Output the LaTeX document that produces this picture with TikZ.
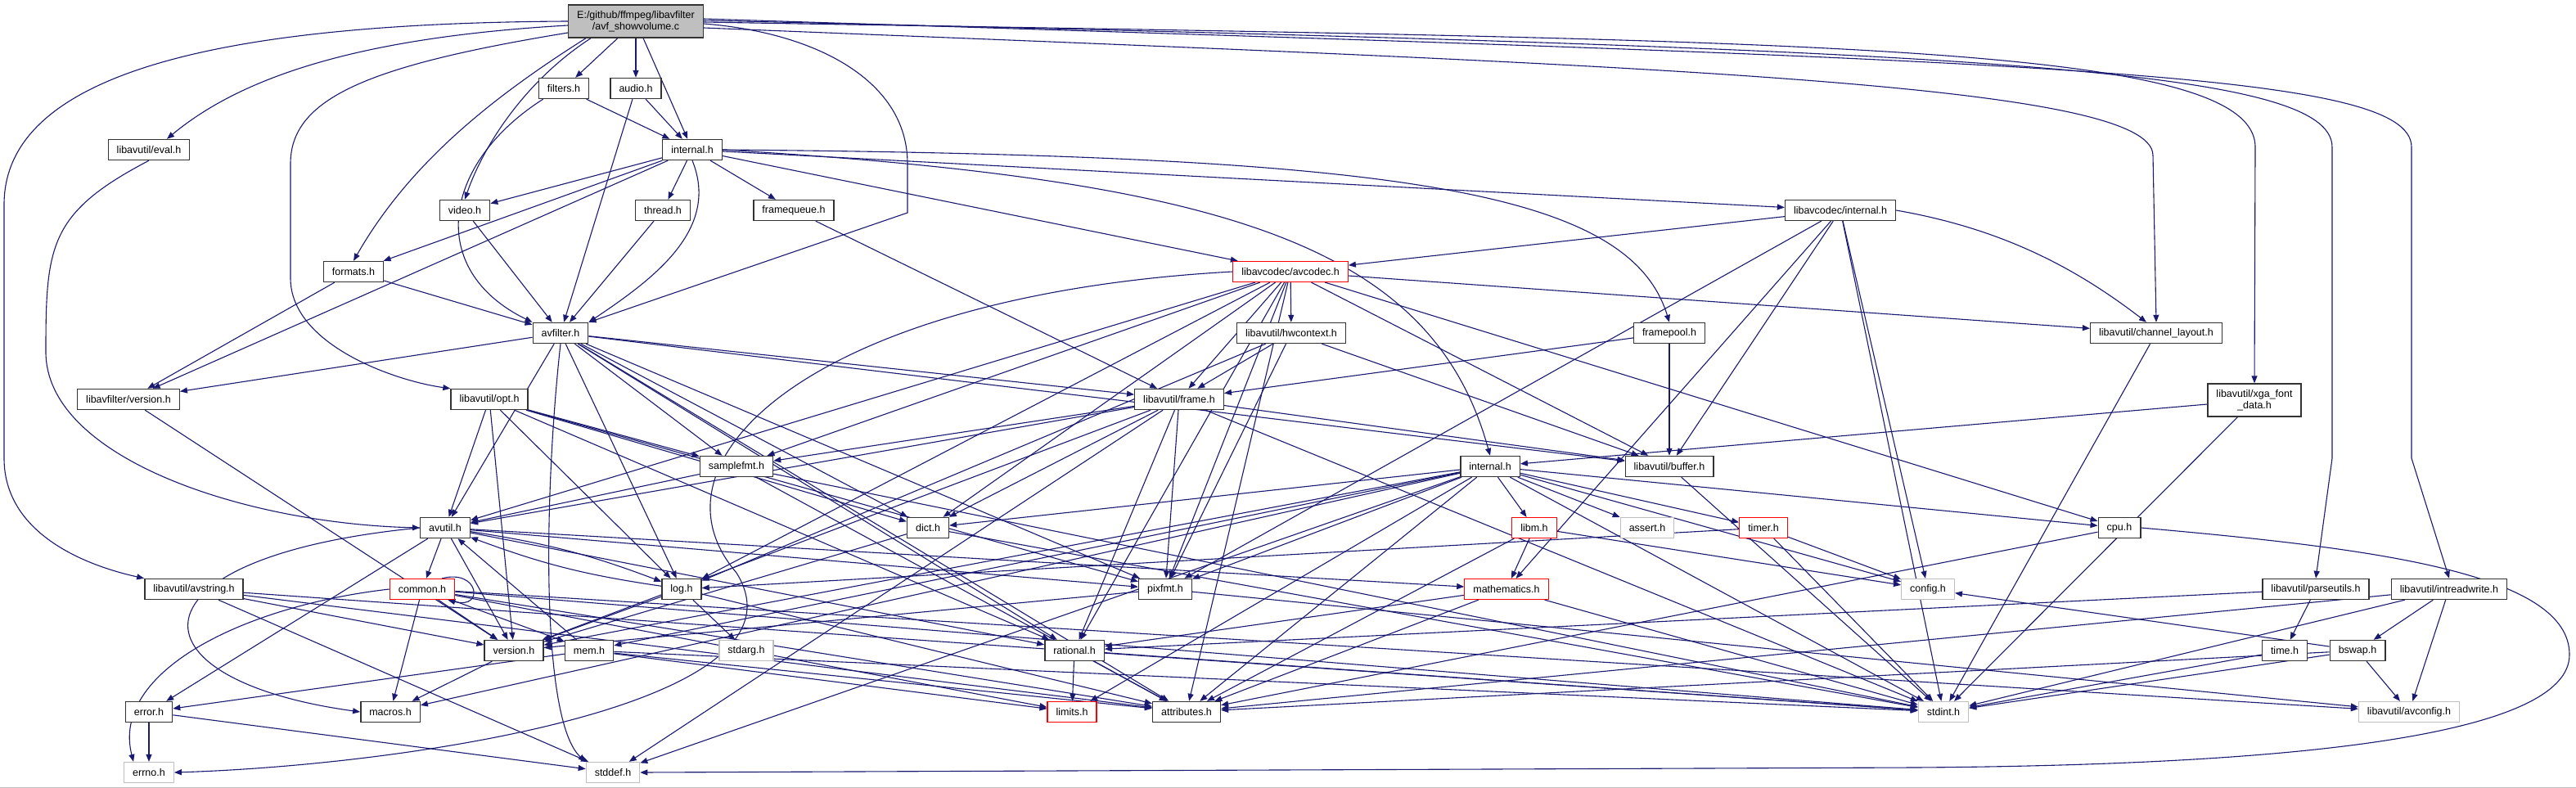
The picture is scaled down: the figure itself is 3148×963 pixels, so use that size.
\documentclass[tikz,border=0pt]{standalone}
\usepackage{fontspec}
\setmainfont{Liberation Sans}
\usetikzlibrary{arrows.meta}
\usetikzlibrary{backgrounds}
\definecolor{incblue}{HTML}{191970}
\definecolor{sysgray}{HTML}{BFBFBF}
\tikzset{
  hdr/.style={draw=black!80, line width=1.4pt, fill=white,
    font=\fontsize{12.5}{14.5}\selectfont, inner xsep=10.5pt, inner ysep=2pt,
    minimum height=25pt},
  hdrred/.style={hdr, draw=red, line width=1.2pt},
  hdrsys/.style={hdr, draw=sysgray, line width=1.2pt},
  inc/.style={draw=incblue, line width=1.1pt,
    -{Triangle[length=9pt,width=7pt]}},
}

\begin{document}
\begin{tikzpicture}[x=1pt,y=-1pt]
  \useasboundingbox (0,0) rectangle (3148,963);

  % top rows
  \node[hdr,fill=sysgray,align=center,minimum height=40pt] (main) at (777,26)
    {E:/github/ffmpeg/libavfilter\\/avf\_showvolume.c};
  \node[hdr] (filters) at (689,108) {filters.h};
  \node[hdr] (audio) at (777,108) {audio.h};
  \node[hdr] (evalh) at (182,183) {libavutil/eval.h};
  \node[hdr] (lavfiint) at (846,183) {internal.h};
  \node[hdr] (videoh) at (568,257) {video.h};
  \node[hdr] (threadh) at (810,257) {thread.h};
  \node[hdr] (framequeue) at (970,257) {framequeue.h};
  \node[hdr] (lavcint) at (2249,257) {libavcodec/internal.h};
  \node[hdr] (formats) at (432,332) {formats.h};
  \node[hdrred] (avcodec) at (1577,332) {libavcodec/avcodec.h};
  \node[hdr] (avfilter) at (685,407) {avfilter.h};
  \node[hdr] (hwcontext) at (1578,407) {libavutil/hwcontext.h};
  \node[hdr] (framepool) at (2040,407) {framepool.h};
  \node[hdr] (chlayout) at (2635,407) {libavutil/channel\_layout.h};
  \node[hdr] (lavfiver) at (157,488) {libavfilter/version.h};
  \node[hdr] (opt) at (598,488) {libavutil/opt.h};
  \node[hdr] (frame) at (1441,488) {libavutil/frame.h};
  \node[hdr,align=center,minimum height=40pt] (xga) at (2755,489)
    {libavutil/xga\_font\\\_data.h};
  \node[hdr] (samplefmt) at (900,570) {samplefmt.h};
  \node[hdr] (lavuint) at (1821,570) {internal.h};
  \node[hdr] (buffer) at (2040,570) {libavutil/buffer.h};

  % lower rows
  \node[hdr] (avutil) at (544,645) {avutil.h};
  \node[hdr] (dict) at (1134,645) {dict.h};
  \node[hdrred] (libm) at (1875,645) {libm.h};
  \node[hdrsys] (assert) at (2013,645) {assert.h};
  \node[hdrred] (timer) at (2155,645) {timer.h};
  \node[hdr] (cpu) at (2590,645) {cpu.h};
  \node[hdr] (avstring) at (237,720) {libavutil/avstring.h};
  \node[hdrred] (common) at (516,720) {common.h};
  \node[hdr] (log) at (833,720) {log.h};
  \node[hdr] (pixfmt) at (1424,720) {pixfmt.h};
  \node[hdrred] (mathematics) at (1841,720) {mathematics.h};
  \node[hdrsys] (config) at (2356,720) {config.h};
  \node[hdr] (parseutils) at (2830,720) {libavutil/parseutils.h};
  \node[hdr] (intreadwrite) at (2993,720) {libavutil/intreadwrite.h};
  \node[hdr] (version) at (628,795) {version.h};
  \node[hdr] (mem) at (720,795) {mem.h};
  \node[hdrsys] (stdarg) at (912,795) {stdarg.h};
  \node[hdr] (rational) at (1313,795) {rational.h};
  \node[hdr] (time) at (2792,795) {time.h};
  \node[hdr] (bswap) at (2881,795) {bswap.h};
  \node[hdr] (error) at (182,870) {error.h};
  \node[hdr] (macros) at (477,870) {macros.h};
  \node[hdrred] (limits) at (1310,870) {limits.h};
  \node[hdr] (attributes) at (1450,870) {attributes.h};
  \node[hdrsys] (stdint) at (2375,870) {stdint.h};
  \node[hdrsys] (avconfig) at (2944,870) {libavutil/avconfig.h};
  \node[hdrsys] (errno) at (182,944) {errno.h};
  \node[hdrsys] (stddef) at (749,944) {stddef.h};

  \draw[sysgray] (0,962) -- (3148,962);

  \begin{pgfonlayer}{background}
    % from the source file
    \foreach \t in {filters,audio,lavfiint}
      \draw[inc] (main) -- (\t);
    \draw[inc] (main.west) .. controls (300,28) and (5,80) .. (5,250)
      -- (5,560) .. controls (5,650) and (100,690) .. (avstring.north west);
    \draw[inc] ([yshift=-5pt]main.west) .. controls (450,45) and (300,90)
      .. ([xshift=22pt]evalh.north);
    \draw[inc] ([yshift=-14pt]main.west) .. controls (450,80) and (355,120)
      .. (355,200) -- (355,340) .. controls (355,420) and (480,465)
      .. (opt.north west);
    \draw[inc] ([xshift=22pt]main.south west) .. controls (600,120) and (500,200)
      .. (formats.north);
    \draw[inc] ([xshift=28pt]main.south west) .. controls (640,100) and (590,180)
      .. (videoh.north);
    \draw[inc] ([yshift=-3pt]main.east) .. controls (1000,40) and (1109,100)
      .. (1109,200) -- (1109,260) -- (avfilter.north east);
    \draw[inc] ([yshift=-8pt]main.east) .. controls (2000,80) and (2631,100)
      .. (2631,190) -- (chlayout.north);
    \draw[inc] ([yshift=-1pt]main.east) .. controls (2200,50) and (2756,50)
      .. (2756,180) -- (xga.north);
    \draw[inc] ([yshift=1pt]main.east) .. controls (2400,60) and (2850,80)
      .. (2850,180) -- (2850,560) -- (parseutils.north);
    \draw[inc] ([yshift=3pt]main.east) .. controls (2500,75) and (2947,85)
      .. (2947,180) -- (2947,560) -- (intreadwrite.north);

    % libavfilter headers
    \draw[inc] ([xshift=6pt]filters.south west) .. controls (540,200) and (520,330)
      .. (avfilter.north west);
    \draw[inc] (filters) -- (lavfiint);
    \draw[inc] (audio) -- (avfilter);
    \draw[inc] (audio) -- (lavfiint);
    \foreach \t in {videoh,threadh,framequeue,formats,lavfiver,avcodec,lavcint}
      \draw[inc] (lavfiint) -- (\t);
    \draw[inc] (lavfiint.south) .. controls (880,280) and (800,340)
      .. (avfilter.north east);
    \draw[inc] (lavfiint.east) .. controls (1700,190) and (1990,230)
      .. (framepool.north);
    \draw[inc] (lavfiint.east) .. controls (1500,220) and (1750,300)
      .. (lavuint.north);
    \foreach \s in {videoh,threadh,formats}
      \draw[inc] (\s) -- (avfilter);
    \draw[inc] (formats) -- (lavfiver);
    \draw[inc] (framequeue) -- (frame);
    \foreach \t in {buffer,frame}
      \draw[inc] (framepool) -- (\t);

    % libavcodec
    \foreach \t in {avcodec,buffer,mathematics,pixfmt,config,stdint}
      \draw[inc] (lavcint) -- (\t);
    \draw[inc] (lavcint.east) .. controls (2450,280) and (2540,330)
      .. ([xshift=-12pt]chlayout.north);
    \foreach \t in {samplefmt,attributes,avutil,buffer,cpu,chlayout,dict,frame,hwcontext,log,pixfmt,rational}
      \draw[inc] (avcodec) -- (\t);
    \draw[inc] (avcodec.west) .. controls (1000,360) and (780,560)
      .. (900,700) .. controls (1000,860) and (500,935) .. (errno.east);

    % avfilter.h and friends
    \foreach \t in {attributes,avutil,buffer,dict,frame,log,samplefmt,pixfmt,rational,lavfiver}
      \draw[inc] (avfilter) -- (\t);
    \draw[inc] (avfilter.south) .. controls (665,600) and (660,880)
      .. (stddef.north west);
    \foreach \t in {buffer,frame,log,pixfmt}
      \draw[inc] (hwcontext) -- (\t);
    \draw[inc] (lavfiver) -- (version);
    \foreach \t in {rational,avutil,dict,log,pixfmt,samplefmt,version}
      \draw[inc] (opt) -- (\t);
    \foreach \t in {avutil,buffer,dict,rational,samplefmt,pixfmt,version,stddef,stdint}
      \draw[inc] (frame) -- (\t);
    \foreach \t in {stdint,lavuint}
      \draw[inc] (xga) -- (\t);
    \foreach \t in {avutil,attributes,stdint}
      \draw[inc] (samplefmt) -- (\t);

    % libavutil internals
    \foreach \t in {limits,stdint,stddef,assert,config,attributes,timer,cpu,dict,macros,mem,pixfmt,version,libm}
      \draw[inc] (lavuint) -- (\t);
    \draw[inc] (buffer) -- (stdint);
    \foreach \t in {common,error,rational,version,mathematics,pixfmt}
      \draw[inc] (avutil) -- (\t);
    \draw[inc] (avutil) to[bend left=6] (log);
    \draw[inc] (log) to[bend left=6] (avutil);
    \draw[inc] (avutil.west) .. controls (150,680) and (150,830) .. (macros.west);
    \draw[inc] (evalh.south) .. controls (60,260) and (56,300) .. (56,430)
      .. controls (56,560) and (300,640) .. (avutil.west);
    \foreach \t in {stdint,version}
      \draw[inc] (dict) -- (\t);
    \foreach \t in {config,attributes,mathematics}
      \draw[inc] (libm) -- (\t);
    \foreach \t in {config,stdint,log}
      \draw[inc] (timer) -- (\t);
    \draw[inc] (cpu) -- (attributes);
    \draw[inc] (cpu.east) .. controls (2900,670) and (3140,700) .. (3140,800)
      .. controls (3140,900) and (2800,935) .. (2340,938) -- (stddef.east);
    \foreach \t in {stddef,stdint,attributes,version}
      \draw[inc] (avstring) -- (\t);
    \foreach \t in {limits,stdint,attributes,macros,version,avconfig,mem}
      \draw[inc] (common) -- (\t);
    \draw[inc] (common.west) .. controls (300,740) and (135,820)
      .. ([xshift=12pt]errno.north west);
    \draw[inc] ([xshift=-16pt]common.north east) .. controls +(45,-12) and +(45,12)
      .. ([xshift=-9pt]common.south east);
    \foreach \t in {stdarg,attributes,version}
      \draw[inc] (log) -- (\t);
    \foreach \t in {avconfig,version}
      \draw[inc] (pixfmt) -- (\t);
    \foreach \t in {stdint,attributes,rational}
      \draw[inc] (mathematics) -- (\t);
    \foreach \t in {time,rational}
      \draw[inc] (parseutils) -- (\t);
    \foreach \t in {avconfig,attributes,bswap,stdint}
      \draw[inc] (intreadwrite) -- (\t);
    \draw[inc] (version) -- (macros);
    \foreach \t in {limits,stdint,attributes,error,avutil}
      \draw[inc] (mem) -- (\t);
    \foreach \t in {stdint,limits,attributes}
      \draw[inc] (rational) -- (\t);
    \draw[inc] (time) -- (stdint);
    \foreach \t in {stdint,avconfig,attributes,config}
      \draw[inc] (bswap) -- (\t);
    \foreach \t in {errno,stddef}
      \draw[inc] (error) -- (\t);
    \draw[inc] (chlayout) -- (stdint);
  \end{pgfonlayer}
\end{tikzpicture}
\end{document}
